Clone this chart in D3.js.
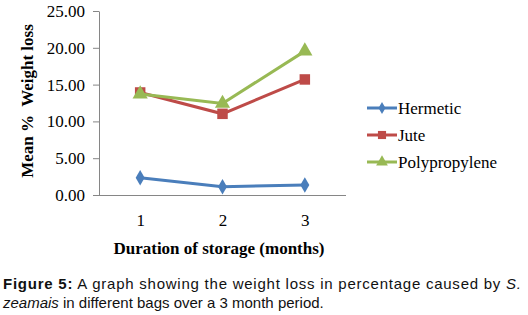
<!DOCTYPE html>
<html>
<head>
<meta charset="utf-8">
<script src="https://cdn.jsdelivr.net/npm/d3@7"></script>
<style>
  body { margin: 0; background: #fff; }
  svg { display: block; }
  .axis path, .axis line { stroke: #868686; }
  .caption { font-family: "Liberation Sans", Arial, sans-serif; font-size: 15px; fill: #111; }
</style>
</head>
<body>
<svg id="chart"></svg>
<script>
// data
const months = ["1", "2", "3"];
const hermetic = [2.35, 1.13, 1.36];
const jute = [13.93, 11.03, 15.70];
const polypropylene = [13.72, 12.44, 19.55];
const yTicks = [0, 5, 10, 15, 20, 25];

const series = [
  {name: "Hermetic", values: hermetic, color: "#4a7ebb", symbol: d3.symbolDiamond, size: 70},
  {name: "Jute", values: jute, color: "#be4b48", symbol: d3.symbolSquare, size: 110},
  {name: "Polypropylene", values: polypropylene, color: "#98b954", symbol: d3.symbolTriangle, size: 100}
];

const serif = "'Liberation Serif', 'Times New Roman', serif";
const width = 528, height = 315;
const margin = {top: 11, left: 99, right: 182, bottom: 120};

const svg = d3.select("#chart").attr("width", width).attr("height", height);
const chart = svg.append("g").attr("transform", `translate(${margin.left},${margin.top})`);
const w = width - margin.left - margin.right;
const h = height - margin.top - margin.bottom;

const x = d3.scalePoint().domain(months).range([0, w]).padding(0.5);
const y = d3.scaleLinear().domain([0, 25]).range([h, 0]);

// y axis
const yAxisG = chart.append("g").attr("class", "axis")
  .call(d3.axisLeft(y).tickValues(yTicks).tickFormat(d3.format(".2f")).tickSize(6).tickSizeOuter(0).tickPadding(8));

// x axis (no tick marks)
const xAxisG = chart.append("g").attr("class", "axis")
  .attr("transform", `translate(0,${h})`)
  .call(d3.axisBottom(x).tickSize(0).tickPadding(19));
xAxisG.select(".domain").attr("d", `M-6,0.5H${w}`);

chart.selectAll(".axis")
  .attr("font-family", serif).attr("font-size", 17);
chart.selectAll(".axis text").attr("fill", "#000");

// lines and markers
const line = d3.line().x((d, i) => x(months[i])).y(d => y(d));
series.forEach(s => {
  chart.append("path").datum(s.values)
    .attr("fill", "none").attr("stroke", s.color).attr("stroke-width", 3)
    .attr("d", line);
  chart.selectAll(null).data(s.values).join("path")
    .attr("transform", (d, i) => `translate(${x(months[i])},${y(d)})`)
    .attr("d", d3.symbol(s.symbol, s.size))
    .attr("fill", s.color);
});

// axis titles
svg.append("text")
  .attr("transform", "translate(33,101) rotate(-90)")
  .attr("text-anchor", "middle")
  .style("font-family", serif)
  .style("font-size", "17px").style("font-weight", "bold")
  .style("white-space", "pre")
  .text("Mean %  Weight loss");

svg.append("text")
  .attr("x", 219).attr("y", 254)
  .attr("text-anchor", "middle")
  .style("font-family", serif)
  .style("font-size", "17px").style("font-weight", "bold")
  .text("Duration of storage (months)");

// legend
const legend = svg.append("g").attr("transform", "translate(367,108)");
series.forEach((s, i) => {
  const g = legend.append("g").attr("transform", `translate(0,${i * 27})`);
  g.append("line").attr("x1", 0).attr("x2", 30).attr("stroke", s.color).attr("stroke-width", 3);
  g.append("path").attr("transform", "translate(15,0)")
    .attr("d", d3.symbol(s.symbol, s.size * 0.6)).attr("fill", s.color);
  g.append("text").attr("x", 31).attr("y", 6)
    .style("font-family", serif)
    .style("font-size", "17px")
    .text(s.name);
});

// caption
const cap1 = svg.append("text").attr("class", "caption").attr("x", 3).attr("y", 289)
  .attr("textLength", 518).attr("lengthAdjust", "spacing");
cap1.append("tspan").style("font-weight", "bold").text("Figure 5:");
cap1.append("tspan").text(" A graph showing the weight loss in percentage caused by ");
cap1.append("tspan").style("font-style", "italic").text("S.");

const cap2 = svg.append("text").attr("class", "caption").attr("x", 3).attr("y", 308);
cap2.append("tspan").style("font-style", "italic").text("zeamais");
cap2.append("tspan").text(" in different bags over a 3 month period.");
</script>
</body>
</html>
